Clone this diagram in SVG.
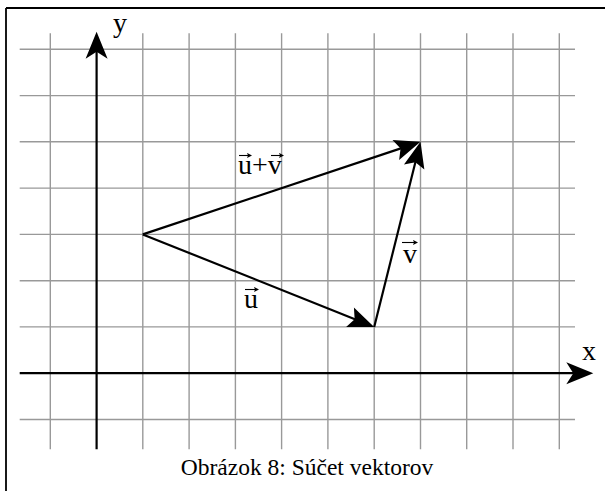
<svg xmlns="http://www.w3.org/2000/svg" width="605" height="491" viewBox="0 0 605 491">
<style>
.frame{stroke:#000;stroke-width:1.8;fill:none}
.grid line{stroke:#999;stroke-width:1.4}
.axis{stroke:#000;stroke-width:2.2;fill:none}
.vec{stroke:#000;stroke-width:2.2;fill:none}
.lbl{font-family:"Liberation Serif","Times New Roman",serif;font-size:28px;fill:#000}
.cap{font-family:"Liberation Serif","Times New Roman",serif;font-size:23.5px;fill:#000}
.ov{stroke:#000;stroke-width:1.1;fill:none}
</style>
<defs>
<marker id="axh" markerUnits="userSpaceOnUse" viewBox="-10 -12 30 24" refX="0" refY="0" markerWidth="30" markerHeight="24" orient="auto">
<path d="M18,0 L-9,-11 L-2,0 L-9,11 Z" fill="#000"/>
</marker>
<marker id="vh" markerUnits="userSpaceOnUse" viewBox="-12 -12 30 24" refX="0" refY="0" markerWidth="30" markerHeight="24" orient="auto">
<path d="M16,0 L-10,-10.5 L-5,0 L-10,10.5 Z" fill="#000"/>
</marker>
<marker id="sh" markerUnits="userSpaceOnUse" viewBox="-1 -3 6 6" refX="0" refY="0" markerWidth="6" markerHeight="6" orient="auto">
<path d="M4,0 L-1,-2.6 L0,0 L-1,2.6 Z" fill="#000"/>
</marker>
</defs>
<g id="frame">
<line class="frame" x1="6" y1="8" x2="605" y2="8"/>
<line class="frame" x1="6" y1="8" x2="6" y2="491"/>
</g>
<g id="grid" class="grid">
<line x1="19.7" y1="49.3" x2="575" y2="49.3"/>
<line x1="19.7" y1="95.6" x2="575" y2="95.6"/>
<line x1="19.7" y1="141.8" x2="575" y2="141.8"/>
<line x1="19.7" y1="188.1" x2="575" y2="188.1"/>
<line x1="19.7" y1="234.4" x2="575" y2="234.4"/>
<line x1="19.7" y1="280.7" x2="575" y2="280.7"/>
<line x1="19.7" y1="326.9" x2="575" y2="326.9"/>
<line x1="19.7" y1="419.5" x2="575" y2="419.5"/>
<line x1="50.3" y1="33.3" x2="50.3" y2="449.3"/>
<line x1="142.8" y1="33.3" x2="142.8" y2="449.3"/>
<line x1="189.1" y1="33.3" x2="189.1" y2="449.3"/>
<line x1="235.4" y1="33.3" x2="235.4" y2="449.3"/>
<line x1="281.6" y1="33.3" x2="281.6" y2="449.3"/>
<line x1="327.9" y1="33.3" x2="327.9" y2="449.3"/>
<line x1="374.2" y1="33.3" x2="374.2" y2="449.3"/>
<line x1="420.5" y1="33.3" x2="420.5" y2="449.3"/>
<line x1="466.7" y1="33.3" x2="466.7" y2="449.3"/>
<line x1="513.0" y1="33.3" x2="513.0" y2="449.3"/>
<line x1="559.3" y1="33.3" x2="559.3" y2="449.3"/>
</g>
<g id="connectors">
<line id="x-axis" class="axis" x1="19.7" y1="373.2" x2="575.3" y2="373.2" marker-end="url(#axh)"/>
<line id="y-axis" class="axis" x1="96.6" y1="449.3" x2="96.6" y2="49.7" marker-end="url(#axh)"/>
<line id="vec-u" class="vec" x1="142.8" y1="234.4" x2="359.3" y2="321.0" marker-end="url(#vh)"/>
<line id="vec-v" class="vec" x1="374.2" y1="326.9" x2="416.6" y2="157.3" marker-end="url(#vh)"/>
<line id="vec-uv" class="vec" x1="142.8" y1="234.4" x2="405.3" y2="146.9" marker-end="url(#vh)"/>
</g>
<g id="label-x"><text class="lbl" x="582" y="360">x</text></g>
<g id="label-y"><text class="lbl" x="113" y="32">y</text></g>
<g id="label-uv">
<text class="lbl" x="238" y="174">u+v</text>
<line class="ov" x1="239" y1="155.5" x2="248" y2="155.5" marker-end="url(#sh)"/>
<line class="ov" x1="271" y1="155.5" x2="280" y2="155.5" marker-end="url(#sh)"/>
</g>
<g id="label-v">
<text class="lbl" x="403" y="263">v</text>
<line class="ov" x1="402" y1="242.5" x2="414" y2="242.5" marker-end="url(#sh)"/>
</g>
<g id="label-u">
<text class="lbl" x="244" y="308">u</text>
<line class="ov" x1="245" y1="289.5" x2="255" y2="289.5" marker-end="url(#sh)"/>
</g>
<g id="caption"><text class="cap" x="307" y="475" text-anchor="middle">Obrázok 8: Súčet vektorov</text></g>
</svg>
